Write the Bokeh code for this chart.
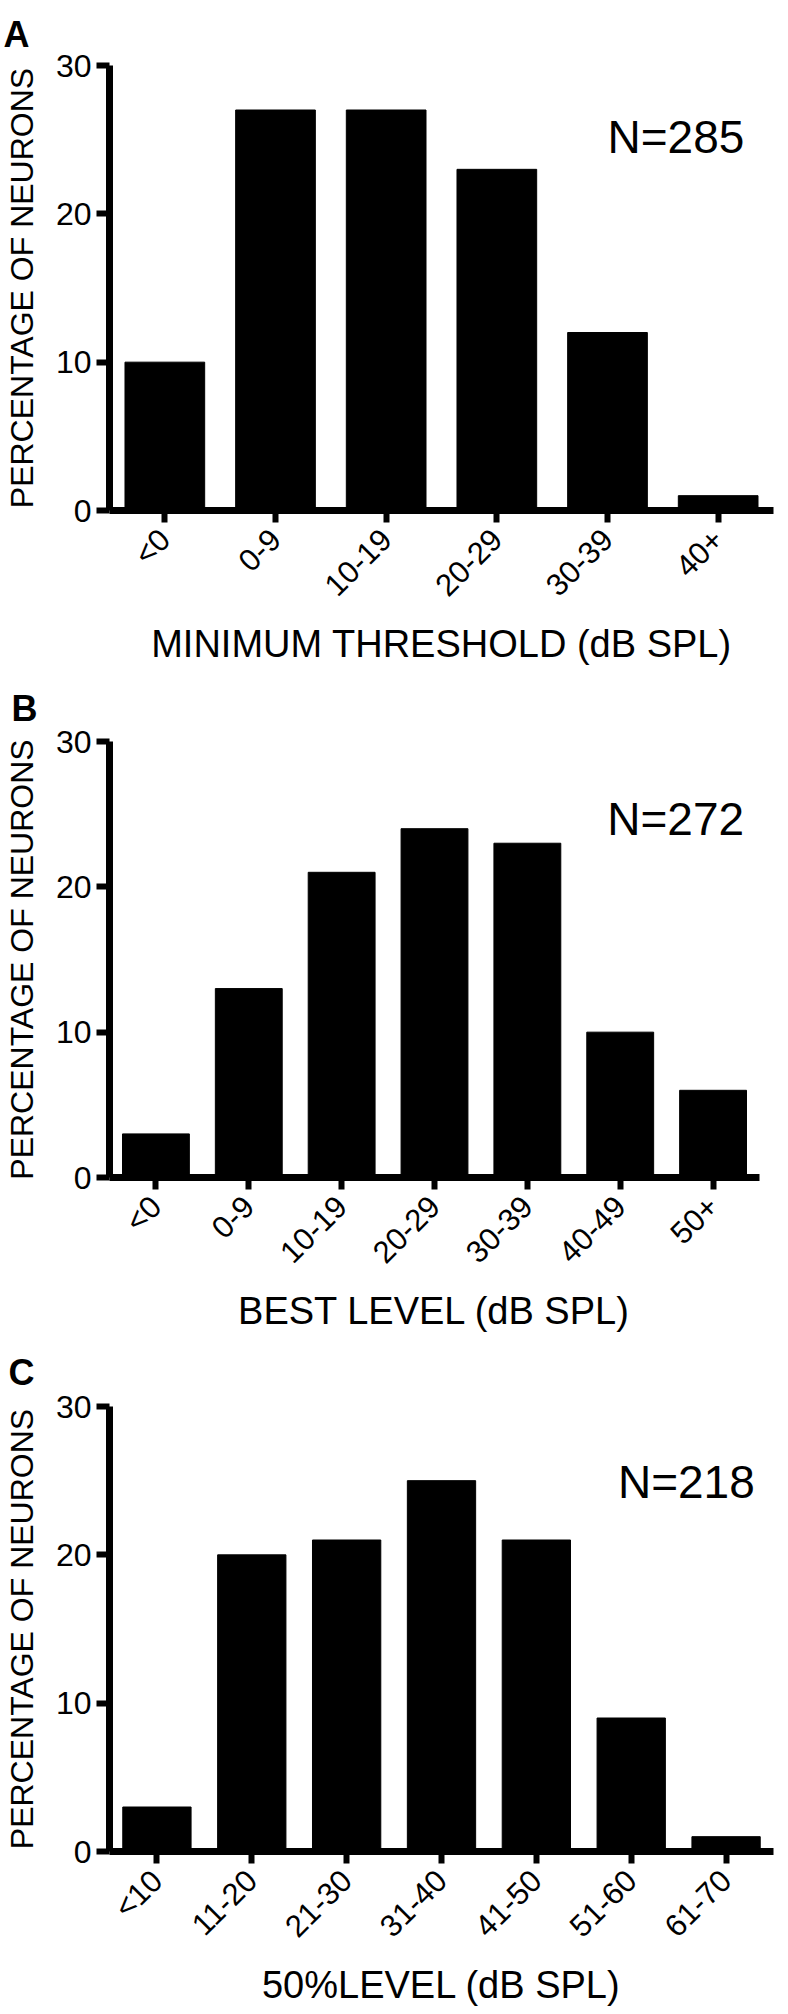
import math
from bokeh.plotting import figure
from bokeh.models import FactorRange, Range1d, FixedTicker, Label
from bokeh.layouts import column
from bokeh.embed import file_html
from bokeh.resources import INLINE

# ---- data ----
cats_a = ["<0", "0-9", "10-19", "20-29", "30-39", "40+"]
vals_a = [10, 27, 27, 23, 12, 1]

cats_b = ["<0", "0-9", "10-19", "20-29", "30-39", "40-49", "50+"]
vals_b = [3, 13, 21, 24, 23, 10, 6]

cats_c = ["<10", "11-20", "21-30", "31-40", "41-50", "51-60", "61-70"]
vals_c = [3, 20, 21, 25, 21, 9, 1]

y_ticks = [0, 10, 20, 30]
y_title = "PERCENTAGE OF NEURONS"
x_titles = ["MINIMUM THRESHOLD (dB SPL)", "BEST LEVEL (dB SPL)", "50%LEVEL (dB SPL)"]
n_texts = ["N=285", "N=272", "N=218"]
letters = ["A", "B", "C"]

FONT = "Liberation Sans"


def make_panel(cats, vals, letter, n_text, xtitle, frame_w, frame_h, b_top, b_bottom,
               b_right, letter_off, letter_standoff, n_x, n_y):
    b_left = 106
    p = figure(frame_width=frame_w, frame_height=frame_h,
               x_range=FactorRange(*cats, range_padding=0),
               y_range=Range1d(0, 30), output_backend="svg", toolbar_location=None,
               min_border_left=b_left, min_border_right=b_right,
               min_border_top=b_top, min_border_bottom=b_bottom)
    p.outline_line_color = None
    p.xgrid.visible = False
    p.ygrid.visible = False
    p.background_fill_color = "white"
    p.border_fill_color = "white"

    # panel letter as the figure title
    p.title.text = letter
    p.title.align = "left"
    p.title.offset = letter_off
    p.title.standoff = letter_standoff
    p.title.text_font = FONT
    p.title.text_font_size = "36px"
    p.title.text_font_style = "bold"
    p.title.text_color = "black"

    p.vbar(x=cats, top=vals, width=0.72, fill_color="black", line_color="black",
           line_width=1)

    # y axis
    ya = p.yaxis[0]
    ya.ticker = FixedTicker(ticks=y_ticks)
    ya.minor_tick_line_color = None
    ya.axis_line_width = 7
    ya.major_tick_line_width = 6
    ya.major_tick_out = 13
    ya.major_tick_in = 0
    ya.major_label_standoff = 5
    ya.major_label_text_font = FONT
    ya.major_label_text_font_size = "32px"
    ya.major_label_text_color = "black"
    ya.axis_label = y_title
    ya.axis_label_text_font = FONT
    ya.axis_label_text_font_size = "32px"
    ya.axis_label_text_font_style = "normal"
    ya.axis_label_text_color = "black"
    ya.axis_label_standoff = 13

    # x axis
    xa = p.xaxis[0]
    xa.axis_line_width = 7
    xa.major_tick_line_width = 6
    xa.major_tick_out = 12
    xa.major_tick_in = 0
    xa.minor_tick_line_color = None
    xa.major_label_orientation = math.pi / 4
    xa.major_label_standoff = 12
    xa.major_label_text_font = FONT
    xa.major_label_text_font_size = "31px"
    xa.major_label_text_color = "black"
    xa.axis_label = xtitle
    xa.axis_label_text_font = FONT
    xa.axis_label_text_font_size = "38px"
    xa.axis_label_text_font_style = "normal"
    xa.axis_label_text_color = "black"
    xa.axis_label_standoff = 5

    p.add_layout(Label(x=n_x, y=n_y, text=n_text, text_font=FONT,
                       text_font_size="46px", text_color="black",
                       text_baseline="alphabetic", text_align="left"))
    return p


pa = make_panel(cats_a, vals_a, letters[0], n_texts[0], x_titles[0],
                664, 445, 63, 154, 2, -106, 22, 4.50, 25.15)
pb = make_panel(cats_b, vals_b, letters[1], n_texts[1], x_titles[1],
                650, 436, 73, 154, 16, -98, 25, 5.36, 24.7)
pc = make_panel(cats_c, vals_c, letters[2], n_texts[2], x_titles[2],
                664, 445, 70, 154, 2, -101, 28, 5.36, 24.9)

layout = column(pa, pb, pc, spacing=0)
open("out.html", "w").write(file_html(layout, INLINE))
